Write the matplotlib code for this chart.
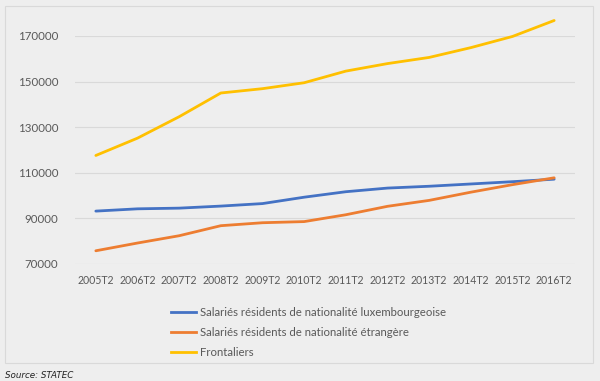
import matplotlib.pyplot as plt
from matplotlib.patches import Rectangle
from matplotlib.lines import Line2D

periods = ["2005T2", "2006T2", "2007T2", "2008T2", "2009T2", "2010T2",
           "2011T2", "2012T2", "2013T2", "2014T2", "2015T2", "2016T2"]
lux = [93200, 94200, 94500, 95400, 96500, 99300, 101700, 103300, 104100, 105100, 106100, 107200]
etr = [75800, 79200, 82400, 86800, 88100, 88600, 91600, 95300, 97900, 101500, 104800, 107800]
front = [117600, 125200, 134600, 145000, 146900, 149500, 154600, 157900, 160600, 164900, 169800, 176800]

labels = ["Salariés résidents de nationalité luxembourgeoise",
          "Salariés résidents de nationalité étrangère",
          "Frontaliers"]
colors = ["#4472C4", "#ED7D31", "#FFC000"]

plt.rcParams['font.family'] = ['Lato', 'DejaVu Sans']
txt = "#595959"
bg = "#EEEEEE"

fig = plt.figure(figsize=(6, 3.81), dpi=100)
fig.patch.set_facecolor(bg)
# chart frame
fig.add_artist(Rectangle((5 / 600, 1 - 363 / 381), 588 / 600, 357 / 381,
                         transform=fig.transFigure, fill=False,
                         edgecolor="#D9D9D9", linewidth=0.8))

ax = fig.add_axes([75 / 600, 1 - 264 / 381, 500 / 600, 228 / 381])
ax.set_facecolor(bg)
x = range(len(periods))
for vals, c in zip([lux, etr, front], colors):
    ax.plot(x, vals, color=c, linewidth=2, solid_capstyle="round", clip_on=False)

ax.set_xlim(-0.5, len(periods) - 0.5)
ax.set_ylim(70000, 170000)
ax.set_yticks([70000, 90000, 110000, 130000, 150000, 170000])
ax.set_xticks(list(x))
ax.set_xticklabels(periods)
ax.grid(axis="y", color="#D9D9D9", linewidth=0.8)
ax.set_axisbelow(True)
for s in ax.spines.values():
    s.set_visible(False)
ax.tick_params(length=0, labelsize=8.3, colors=txt, pad=8)
ax.tick_params(axis="x", labelsize=7.6)
ax.tick_params(axis="y", pad=12)

handles = [Line2D([], [], color=c, linewidth=2) for c in colors]
fig.legend(handles, labels, loc="upper left", bbox_to_anchor=(166 / 600, 1 - 302 / 381),
           frameon=False, fontsize=8.2, labelcolor=txt, handlelength=2.2,
           handletextpad=0.4, labelspacing=0.8, borderaxespad=0)

fig.text(5 / 600, 1 - 376 / 381, "Source: STATEC", fontsize=6.3, style="italic",
         color="#222222", va="center", family="DejaVu Sans")

fig.savefig("out.png", dpi=100, facecolor=bg)
